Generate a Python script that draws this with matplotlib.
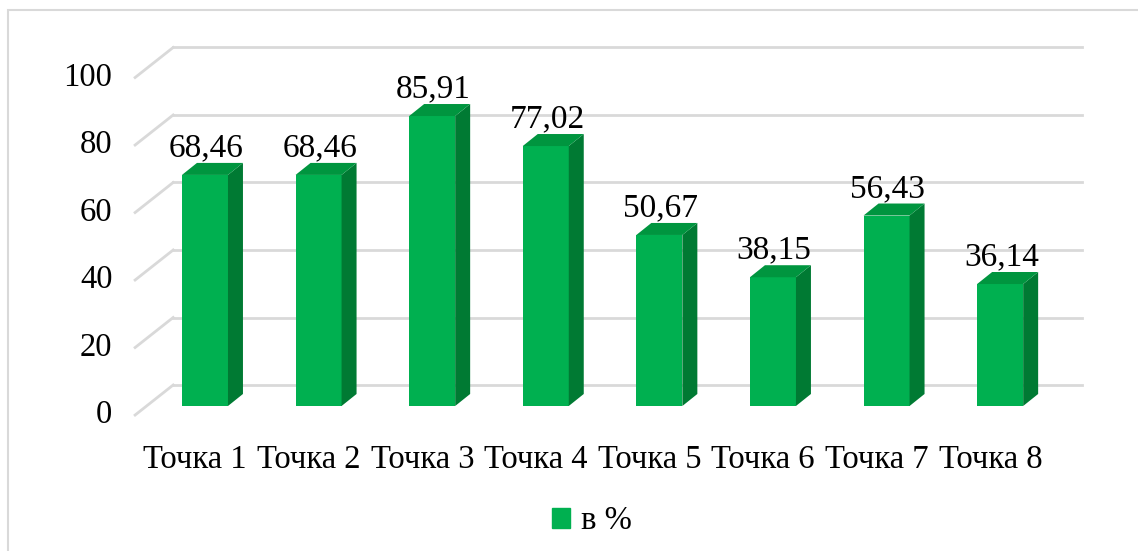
import numpy as np
import matplotlib.pyplot as plt
from matplotlib.patches import Polygon, Rectangle

plt.rcParams['font.family'] = ['Liberation Serif', 'DejaVu Serif']

# data
categories = ['Точка 1', 'Точка 2', 'Точка 3', 'Точка 4',
              'Точка 5', 'Точка 6', 'Точка 7', 'Точка 8']
values = [68.46, 68.46, 85.91, 77.02, 50.67, 38.15, 56.43, 36.14]
labels = ['68,46', '68,46', '85,91', '77,02', '50,67', '38,15', '56,43', '36,14']
yticks = [0, 20, 40, 60, 80, 100]
series_name = 'в %'

# colours
c_front = '#00B050'
c_side = '#007A33'
c_top = '#00953F'
c_grid = '#D9D9D9'

# 3d-ish offsets (category units / value units)
bar_w = 0.405
side_dx, side_dy = 0.132, 3.56     # bar depth
wall_dy = 6.22                    # back wall is shifted up relative to bar plane
diag_dx, diag_dy = -0.335, -8.9   # floor gridline going to the front

fig = plt.figure(figsize=(11.38, 5.51), dpi=100)
# outer chart border
fig.patches.append(Rectangle((8 / 1138, -0.1), 1.2, (551 - 10) / 551 + 0.1,
                             transform=fig.transFigure, fill=False,
                             edgecolor='#D9D9D9', linewidth=1.5))

ax = fig.add_axes([100 / 1138, 121 / 551, 1000 / 1138, 400 / 551])
ax.set_xlim(-0.924, 7.879)
ax.set_ylim(-7.11, 111.4)
ax.axis('off')

x = np.arange(len(values))
x_wall_left = -0.28
x_wall_right = 7.72

# back wall gridlines + diagonal floor/side lines
for v in yticks:
    yb = v + wall_dy
    ax.plot([x_wall_left, x_wall_right], [yb, yb], color=c_grid, lw=2, zorder=1)
    ax.plot([x_wall_left, x_wall_left + diag_dx], [yb, yb + diag_dy],
            color=c_grid, lw=2, zorder=1)
    ax.text(x_wall_left + diag_dx - 0.2, yb + diag_dy, str(v),
            ha='right', va='center', fontsize=23.5)

# bars: front faces
ax.bar(x, values, width=bar_w, color=c_front, zorder=3)

# side and top faces
for xi, v, lab in zip(x, values, labels):
    xr = xi + bar_w / 2
    xl = xi - bar_w / 2
    side = Polygon([(xr, 0), (xr + side_dx, side_dy), (xr + side_dx, v + side_dy), (xr, v)],
                   closed=True, facecolor=c_side, edgecolor='none', zorder=3)
    top = Polygon([(xl, v), (xr, v), (xr + side_dx, v + side_dy), (xl + side_dx, v + side_dy)],
                  closed=True, facecolor=c_top, edgecolor='none', zorder=3)
    ax.add_patch(side)
    ax.add_patch(top)
    ax.text(xi + 0.01, v + 8.0, lab, ha='center', va='center', fontsize=24, zorder=4)

# category labels
for xi, cat in zip(x, categories):
    ax.text(xi - 0.085, -15.8, cat, ha='center', va='center', fontsize=23.5, clip_on=False)

# legend
leg = ax.legend([Rectangle((0, 0), 1, 1, color=c_front)], [series_name],
                loc='center', bbox_to_anchor=(592 / 1138, 30 / 551),
                bbox_transform=fig.transFigure, frameon=False, fontsize=23.5,
                handlelength=0.55, handleheight=0.55, handletextpad=0.35)

fig.savefig('out.png', dpi=100)
